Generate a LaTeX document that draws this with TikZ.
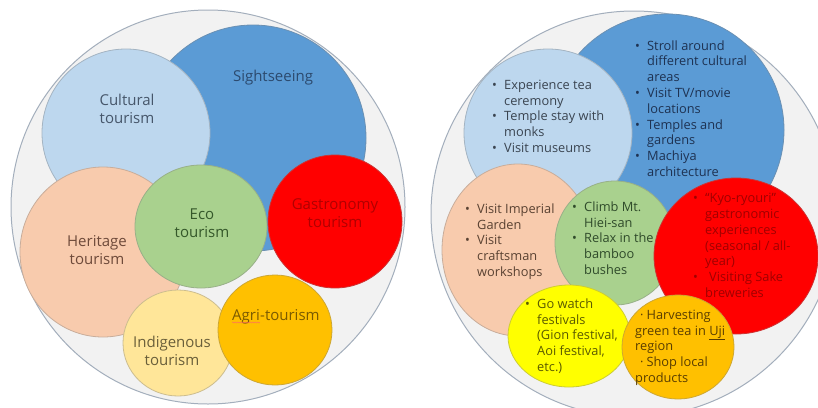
\documentclass[tikz,border=0pt]{standalone}
\usepackage{fontspec}
\setmainfont{Open Sans}
\usetikzlibrary{decorations.pathmorphing}

% fills
\definecolor{ringfill}{HTML}{F2F2F2}
\definecolor{ringline}{HTML}{A3AEBC}
\definecolor{sight}{HTML}{5B9BD5}
\definecolor{cultural}{HTML}{BDD7EE}
\definecolor{heritage}{HTML}{F8CBAD}
\definecolor{eco}{HTML}{A9D18E}
\definecolor{gastro}{HTML}{FF0000}
\definecolor{indig}{HTML}{FFE699}
\definecolor{agri}{HTML}{FFC000}
\definecolor{festival}{HTML}{FFFF00}
% text colours
\definecolor{tsight}{HTML}{2C4A6E}
\definecolor{tcultural}{HTML}{46566A}
\definecolor{theritage}{HTML}{6E4A3A}
\definecolor{teco}{HTML}{35582A}
\definecolor{tgastro}{HTML}{B00000}
\definecolor{tagri}{HTML}{7A5A00}
\definecolor{tindig}{HTML}{6A5F3A}
\definecolor{tfest}{HTML}{5A5A00}
\definecolor{tsightR}{HTML}{1E3252}
\definecolor{tculturalR}{HTML}{3A4450}
\definecolor{theritageR}{HTML}{5A4232}
\definecolor{tecoR}{HTML}{2F4A2A}
\definecolor{tgastroR}{HTML}{A00000}
\definecolor{tagriR}{HTML}{5A3E00}

% bullet with a fixed hang
\newcommand\bu{\makebox[12pt][l]{\textbullet}}
\newcommand\hang{\hspace*{12pt}}

\tikzset{
  ring/.style={fill=ringfill, draw=ringline, line width=1pt},
  blob/.style={fill=#1, draw=#1!60!gray, line width=0.8pt},
  lab/.style={font=\fontsize{15}{17.5}\selectfont, align=center, inner sep=0pt},
  % placed by the baseline of the last line
  items/.style={font=\fontsize{12.8}{15.8}\selectfont, align=left, anchor=base west, inner sep=0pt},
  squiggle/.style={draw=red!60, line width=0.4pt, decorate,
    decoration={snake, amplitude=0.6pt, segment length=2.5pt}},
}

\begin{document}
\begin{tikzpicture}[x=1pt,y=-1pt]
\useasboundingbox (0,0) rectangle (818,407);

% ---------- left: types of tourism ----------
\draw[ring] (208,207) circle [radius=197];
\draw[blob=sight]    (253,138) circle [radius=113];
\draw[blob=cultural] (126,133) circle [radius=84];
\draw[blob=heritage] (103,252) ellipse [x radius=83, y radius=85];
\draw[blob=eco]      (201,226.5) ellipse [x radius=66, y radius=61.5];
\draw[blob=gastro]   (335,221.5) ellipse [x radius=67, y radius=66.5];
\draw[blob=indig]    (178,343) ellipse [x radius=55, y radius=53];
\draw[blob=agri]     (275,330) ellipse [x radius=57, y radius=55];

\node[lab, text=tsight]    (lSight) at (273,78)  {Sightseeing};
\node[lab, text=tcultural] (lCult)  at (127,109) {Cultural\\tourism};
\node[lab, text=teco]      (lEco)   at (202,223) {Eco\\tourism};
\node[lab, text=theritage] (lHer)   at (97,250)  {Heritage\\tourism};
\node[lab, text=tgastro]   (lGas)   at (335,213) {Gastronomy\\tourism};
\node[lab, text=tagri, anchor=base west] (lAgriA) at (232,320) {Agri};
\node[lab, text=tagri, anchor=base west] (lAgriB) at (lAgriA.base east) {-tourism};
\draw[squiggle] ([yshift=-2.5pt]lAgriA.base west) -- ([yshift=-2.5pt]lAgriA.base east);
\node[lab, text=tindig]    (lInd)   at (172,351) {Indigenous\\tourism};

% ---------- right: activities ----------
\draw[ring] (634,214) circle [radius=203];
\draw[blob=sight]    (667,130) ellipse [x radius=117, y radius=116];
\draw[blob=cultural] (548,133) circle [radius=84];
\draw[blob=heritage] (518,250) ellipse [x radius=76, y radius=86];
\draw[blob=eco]      (615,243) ellipse [x radius=60, y radius=62];
\draw[blob=gastro]   (736,256) ellipse [x radius=82, y radius=78];
\draw[blob=festival] (569,336) ellipse [x radius=61, y radius=51];
\draw[blob=agri]     (678,347) ellipse [x radius=56, y radius=52];

\node[items, text=tsightR] (rSight) at (635,176.5) {%
  \bu Stroll around\\ \hang different cultural\\ \hang areas\\
  \bu Visit TV/movie\\ \hang locations\\
  \bu Temples and\\ \hang gardens\\
  \bu Machiya\\ \hang architecture};
\node[items, text=tculturalR] (rCult) at (492,152.5) {%
  \bu Experience tea\\ \hang ceremony\\
  \bu Temple stay with\\ \hang monks\\
  \bu Visit museums};
\node[items, text=theritageR] (rHer) at (465,276.5) {%
  \bu Visit Imperial\\ \hang Garden\\
  \bu Visit\\ \hang craftsman\\ \hang workshops};
\node[items, text=tecoR] (rEco) at (572,274.5) {%
  \bu Climb Mt.\\ \hang Hiei-san\\
  \bu Relax in the\\ \hang bamboo\\ \hang bushes};
\node[items, text=tgastroR] (rGas) at (693,297.5) {%
  \bu “Kyo-ryouri”\\ \hang gastronomic\\ \hang experiences\\
  \hang (seasonal / all-\\ \hang year)\\
  \bu\hspace{4pt}Visiting Sake\\ \hang breweries};
\node[items, text=tfest] (rFest) at (525,371.5) {%
  \bu Go watch\\ \hang festivals\\ \hang (Gion festival,\\
  \hang Aoi festival,\\ \hang etc.)};
\node[items, text=tagriR] (rAgri) at (635,382.5) {%
  \hspace*{5pt}·\hspace{3pt}Harvesting\\ green tea in \underline{Uji}\\ region\\
  \hspace*{5pt}·\hspace{3pt}Shop local\\ products};

\end{tikzpicture}
\end{document}
